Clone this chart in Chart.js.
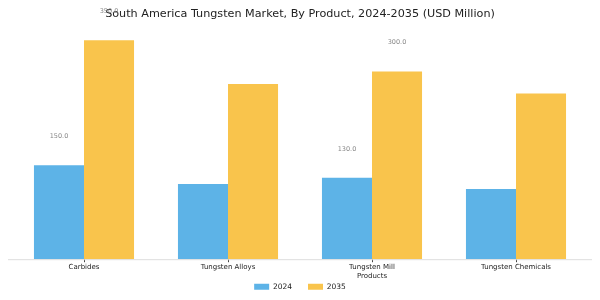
<!DOCTYPE html>
<html>
<head>
<meta charset="utf-8">
<script src="https://cdn.jsdelivr.net/npm/chart.js@4"></script>
<style>
  html, body { margin: 0; padding: 0; background: #fff; }
  #wrap { width: 600px; height: 300px; }
</style>
</head>
<body>
<div id="wrap"><canvas id="chart" width="600" height="300"></canvas></div>
<script>
// --- data ---
const categories = ['Carbides', 'Tungsten Alloys', ['Tungsten Mill', 'Products'], 'Tungsten Chemicals'];
const values2024 = [150, 120, 130, 112];
const values2035 = [350, 280, 300, 265];
const labelledIdx = [0, 2]; // only these groups carry value labels

// value labels floating above the bars
const valueLabels = {
    id: 'valueLabels',
    afterDatasetsDraw(chart) {
        const ctx = chart.ctx;
        ctx.save();
        ctx.font = '6.5px "DejaVu Sans"';
        ctx.fillStyle = '#888';
        ctx.textAlign = 'center';
        ctx.textBaseline = 'middle';
        chart.data.datasets.forEach((ds, di) => {
            const meta = chart.getDatasetMeta(di);
            labelledIdx.forEach(i => {
                const bar = meta.data[i];
                ctx.fillText(ds.data[i].toFixed(1), bar.x, bar.y - 29);
            });
        });
        ctx.restore();
    }
};

// thin baseline a bit wider than the plot area
const baseLine = {
    id: 'baseLine',
    afterDraw(chart) {
        const ctx = chart.ctx;
        const y = chart.scales.y.getPixelForValue(0);
        ctx.save();
        ctx.strokeStyle = '#ddd';
        ctx.lineWidth = 1;
        ctx.beginPath();
        ctx.moveTo(8, y + 0.5);
        ctx.lineTo(592, y + 0.5);
        ctx.stroke();
        ctx.restore();
    }
};

// legend keeps wide item spacing but sits tight under the tick labels
const legendNudge = {
    id: 'legendNudge',
    afterLayout(chart) {
        const lg = chart.legend;
        const pad = lg.options.labels.padding;
        lg.top = 283 - pad;
    }
};

const ctx = document.getElementById('chart').getContext('2d');
new Chart(ctx, {
    type: 'bar',
    data: {
        labels: categories,
        datasets: [
            { label: '2024', data: values2024, backgroundColor: '#5db3e7', categoryPercentage: 0.695, barPercentage: 1 },
            { label: '2035', data: values2035, backgroundColor: '#f9c44c', categoryPercentage: 0.695, barPercentage: 1 }
        ]
    },
    options: {
        responsive: false,
        animation: false,
        layout: { padding: { left: 12, right: 12, top: 0, bottom: 0 } },
        plugins: {
            title: {
                display: true,
                text: 'South America Tungsten Market, By Product, 2024-2035 (USD Million)',
                color: '#222',
                font: { family: 'DejaVu Sans', size: 11.2, weight: 'normal' },
                padding: { top: 7, bottom: 6 }
            },
            legend: {
                position: 'bottom',
                maxHeight: 19,
                labels: {
                    boxWidth: 15, boxHeight: 6,
                    color: '#222',
                    font: { family: 'DejaVu Sans', size: 7.5 },
                    padding: 16
                }
            },
            tooltip: { enabled: false }
        },
        scales: {
            x: {
                grid: { display: true, offset: false, drawOnChartArea: false, drawTicks: true, tickLength: 3, color: '#444' },
                border: { display: false },
                ticks: { color: '#222', font: { family: 'DejaVu Sans', size: 7 }, padding: 1, maxRotation: 0 }
            },
            y: {
                display: false,
                min: 0,
                max: 372
            }
        }
    },
    plugins: [valueLabels, baseLine, legendNudge]
});
</script>
</body>
</html>
